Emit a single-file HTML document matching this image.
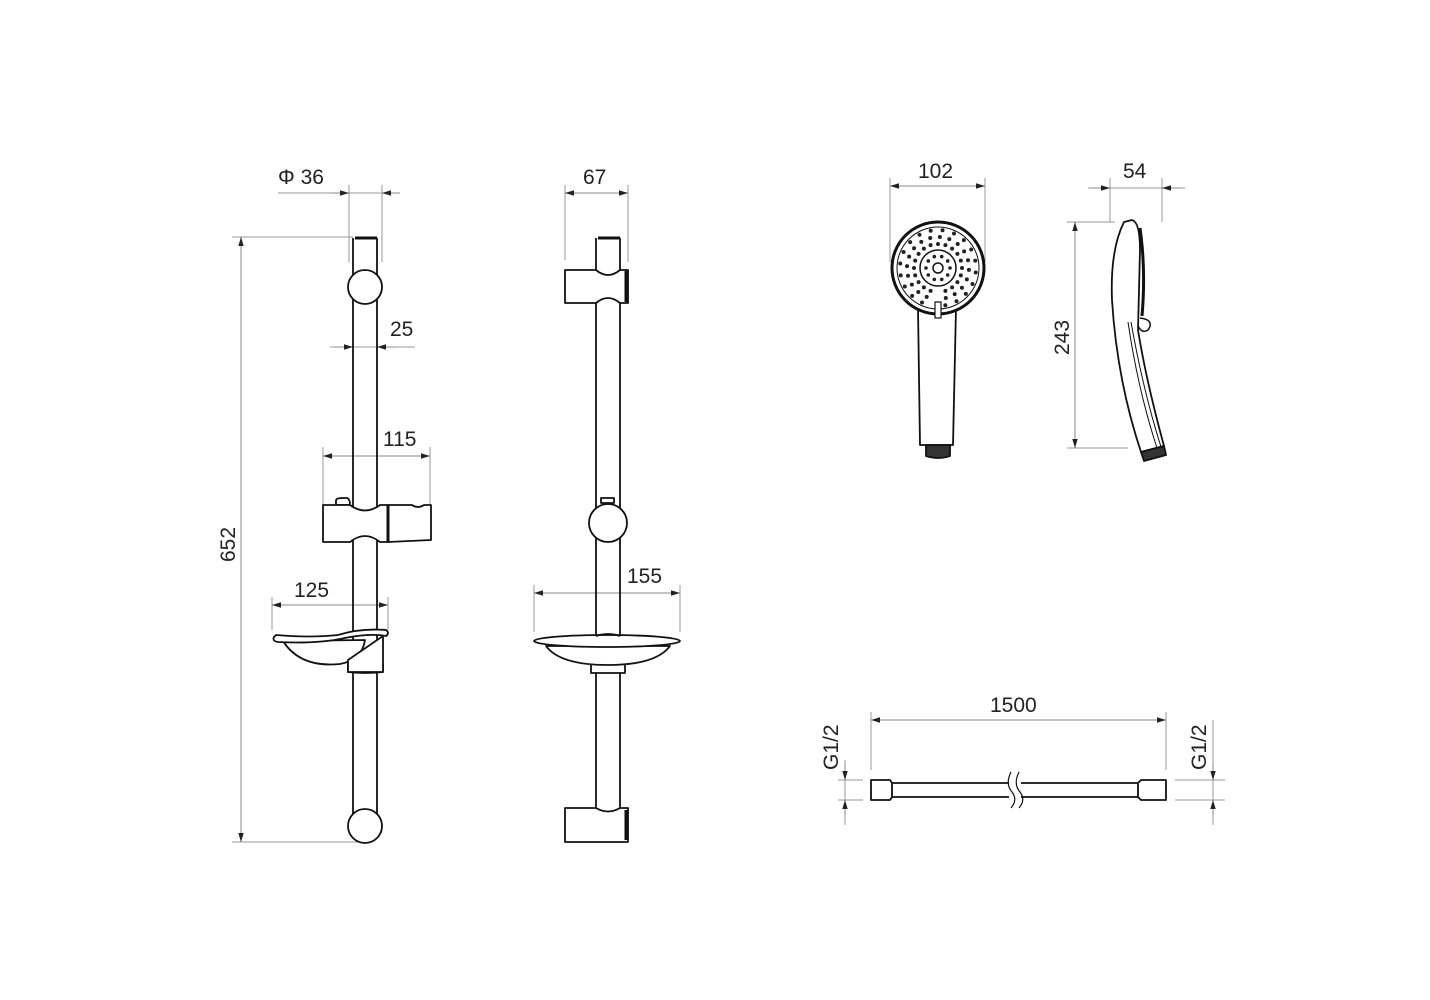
<!DOCTYPE html>
<html><head><meta charset="utf-8"><style>
html,body{margin:0;padding:0;background:#fff;}
svg{display:block;}
text{font-family:"Liberation Sans",Arial,sans-serif;font-size:21px;fill:#222;}
</style></head><body>
<svg id="s" width="1430" height="1000" viewBox="0 0 1430 1000" xmlns="http://www.w3.org/2000/svg">
<defs>
<marker id="a" viewBox="0 0 10 10" refX="10" refY="5" markerWidth="9" markerHeight="9" orient="auto-start-reverse" markerUnits="userSpaceOnUse"><path d="M0,2 L10,5 L0,8 z" fill="#222"/></marker>
</defs>
<g fill="none" stroke="#999" stroke-width="1">
<line x1="232" y1="237" x2="353" y2="237"/><line x1="232" y1="842" x2="365" y2="842"/>
<line x1="349" y1="185" x2="349" y2="262"/><line x1="382" y1="185" x2="382" y2="262"/>
<line x1="278" y1="193" x2="382" y2="193"/>
<line x1="330" y1="347" x2="415" y2="347"/>
<line x1="323" y1="447" x2="323" y2="505"/><line x1="430" y1="447" x2="430" y2="505"/>
<line x1="272" y1="597" x2="272" y2="630"/><line x1="388" y1="597" x2="388" y2="630"/>
<line x1="565" y1="185" x2="565" y2="260"/><line x1="628" y1="185" x2="628" y2="262"/>
<line x1="534" y1="585" x2="534" y2="632"/><line x1="680" y1="585" x2="680" y2="632"/>
<line x1="890" y1="178" x2="890" y2="262"/><line x1="985" y1="178" x2="985" y2="262"/>
<line x1="1110" y1="178" x2="1110" y2="222"/><line x1="1162" y1="178" x2="1162" y2="222"/>
<line x1="1088" y1="188" x2="1185" y2="188"/>
<line x1="1067" y1="222" x2="1115" y2="222"/><line x1="1067" y1="448" x2="1128" y2="448"/>
<line x1="871" y1="712" x2="871" y2="770"/><line x1="1166" y1="712" x2="1166" y2="770"/>
<line x1="845" y1="760" x2="845" y2="825"/><line x1="838" y1="780" x2="863" y2="780"/><line x1="838" y1="800" x2="863" y2="800"/>
<line x1="1213" y1="720" x2="1213" y2="825"/><line x1="1175" y1="780" x2="1225" y2="780"/><line x1="1175" y1="800" x2="1225" y2="800"/>
</g>
<g fill="none" stroke="#888" stroke-width="1">
<line x1="241" y1="237" x2="241" y2="842" marker-start="url(#a)" marker-end="url(#a)"/>
<line x1="330" y1="193" x2="349" y2="193" marker-end="url(#a)"/><line x1="400" y1="193" x2="382" y2="193" marker-end="url(#a)"/>
<line x1="335" y1="347" x2="353" y2="347" marker-end="url(#a)"/><line x1="395" y1="347" x2="377" y2="347" marker-end="url(#a)"/>
<line x1="323" y1="456" x2="430" y2="456" marker-start="url(#a)" marker-end="url(#a)"/>
<line x1="272" y1="605" x2="388" y2="605" marker-start="url(#a)" marker-end="url(#a)"/>
<line x1="565" y1="193" x2="628" y2="193" marker-start="url(#a)" marker-end="url(#a)"/>
<line x1="534" y1="593" x2="680" y2="593" marker-start="url(#a)" marker-end="url(#a)"/>
<line x1="890" y1="186" x2="985" y2="186" marker-start="url(#a)" marker-end="url(#a)"/>
<line x1="1092" y1="188" x2="1110" y2="188" marker-end="url(#a)"/><line x1="1180" y1="188" x2="1162" y2="188" marker-end="url(#a)"/>
<line x1="1075" y1="222" x2="1075" y2="448" marker-start="url(#a)" marker-end="url(#a)"/>
<line x1="871" y1="720" x2="1166" y2="720" marker-start="url(#a)" marker-end="url(#a)"/>
<line x1="845" y1="765" x2="845" y2="780" marker-end="url(#a)"/><line x1="845" y1="815" x2="845" y2="800" marker-end="url(#a)"/>
<line x1="1213" y1="765" x2="1213" y2="780" marker-end="url(#a)"/><line x1="1213" y1="815" x2="1213" y2="800" marker-end="url(#a)"/>
</g>
<g fill="#fff" stroke="#111" stroke-width="1.8" stroke-linejoin="round">
<line x1="353" y1="238" x2="353" y2="830"/><line x1="377" y1="238" x2="377" y2="830"/>
<line x1="355" y1="238" x2="377" y2="238" stroke-width="3"/>
<circle cx="365" cy="287" r="17"/>
<circle cx="365" cy="826" r="17"/>
<path d="M336,505 L336,500 Q337,498 343,498 L347,498 Q350,499 350,505 Z"/>
<path d="M323,505 L350,505 Q365,516 380,505 L388,505 L388,542 L380,542 Q365,530 350,542 L323,542 Z"/>
<path d="M388,505 L412,505 Q418,509 424,505 L431,505 L431,540 L388,542 Z"/>
<line x1="388" y1="505" x2="388" y2="542" stroke-width="3"/>
<path d="M348,665 L383,665 L383,672 Q365,674 348,672 Z"/>
<path d="M283,641 Q300,668 340,664 Q362,660 365,640 Z" />
<path d="M348,660 L348,672 L383,672 L383,636 Z"/>
<path d="M274,637 Q272,641 278,642 Q318,644 345,638 Q370,633 386,636 Q390,633 386,630 Q360,628 338,635 Q310,638 276,635 Z"/>
<line x1="596" y1="238" x2="596" y2="640"/><line x1="620" y1="238" x2="620" y2="640"/>
<line x1="596" y1="672" x2="596" y2="812"/><line x1="620" y1="672" x2="620" y2="812"/>
<line x1="598" y1="238" x2="620" y2="238" stroke-width="3"/>
<path d="M565,270 L596,270 Q608,280 620,270 L628,270 L628,303 L620,303 Q608,293 596,303 L565,303 Z"/>
<line x1="626" y1="271" x2="626" y2="302" stroke-width="3"/>
<path d="M601,503 L601,498 L614,498 L614,503 Z"/>
<circle cx="608" cy="523" r="19"/>
<path d="M591,664 L625,664 L625,673 L591,673 Z"/>
<path d="M546,646 Q560,665 608,665 Q656,665 670,646 Z"/>
<ellipse cx="607" cy="641" rx="73" ry="6"/>
<path d="M596,636 Q608,632 620,636" fill="none"/>
<path d="M565,808 L596,808 Q608,815 620,808 L628,808 L628,842 L565,842 Z"/>
<line x1="626" y1="810" x2="626" y2="840" stroke-width="3"/>
<path d="M918,308 L920,445 L953,445 L956,308 Z"/>
<path d="M926,445 L950,445 L950,456 Q938,460 926,456 Z" fill="#333"/>
<circle cx="938" cy="268" r="46" stroke-width="3"/>
<circle cx="938" cy="268" r="41" stroke-width="1"/>
<circle cx="938" cy="268" r="18" stroke-width="1.5"/>
<circle cx="938" cy="268" r="5" stroke-width="1.5"/>
<path d="M935,302 L935,318 L941,318 L941,302 Z" stroke-width="1.2"/>
<g id="dots" fill="#222" stroke="none"></g>
<path d="M1124,222 Q1110,250 1112,300 Q1117,380 1141,452 L1164,446 Q1146,380 1138,330 L1140,250 Q1140,222 1132,220 Z"/>
<path d="M1140,228 Q1146,270 1142,316" fill="none" stroke-width="3"/>
<path d="M1140,318 Q1155,320 1148,330 Q1142,334 1138,326" fill="none" stroke-width="1.5"/>
<path d="M1128,322 Q1138,390 1157,448" fill="none" stroke-width="1"/>
<path d="M1131,322 Q1143,390 1161,447" fill="none" stroke-width="1"/>
<path d="M1141,452 L1164,446 L1166,455 L1144,461 Z" fill="#333"/>
<line x1="892" y1="783" x2="1009" y2="783"/><line x1="892" y1="797" x2="1009" y2="797"/>
<line x1="1021" y1="783" x2="1138" y2="783"/><line x1="1021" y1="797" x2="1138" y2="797"/>
<path d="M1011,772 Q1005,784 1012,792 Q1018,800 1011,808" fill="none" stroke-width="1.2"/>
<path d="M1019,772 Q1013,784 1020,792 Q1026,800 1019,808" fill="none" stroke-width="1.2"/>
<path d="M871,780 L890,780 L892,783 L892,797 L890,800 L871,800 Z"/>
<path d="M1138,783 L1141,780 L1166,780 L1166,800 L1141,800 L1138,797 Z"/>
</g>
<text x="278" y="184">Φ 36</text>
<text x="390" y="336">25</text>
<text x="383" y="446">115</text>
<text x="294" y="597">125</text>
<text x="583" y="184">67</text>
<text x="627" y="583">155</text>
<text x="918" y="178">102</text>
<text x="1123" y="178">54</text>
<text x="990" y="712">1500</text>
<text transform="translate(235,562) rotate(-90)">652</text>
<text transform="translate(1069,355) rotate(-90)">243</text>
<text transform="translate(838,770) rotate(-90)">G1/2</text>
<text transform="translate(1206,770) rotate(-90)">G1/2</text>
</svg>
<script>
var g=document.getElementById('dots'),ns='http://www.w3.org/2000/svg',cx=938,cy=268;
function d(x,y,r){var c=document.createElementNS(ns,'circle');c.setAttribute('cx',x);c.setAttribute('cy',y);c.setAttribute('r',r);g.appendChild(c);}
for(var i=0;i<10;i++){var a=i*Math.PI*2/10;d(cx+12*Math.cos(a),cy+12*Math.sin(a),1.8);}
for(var i=0;i<20;i++){var a=i*Math.PI*2/20;if(Math.abs(a-Math.PI/2)<0.2)continue;
[24,31,38].forEach(function(r,k){var b=a+k*0.06;d(cx+r*Math.cos(b),cy+r*Math.sin(b),2);});}
</script>
</body></html>
